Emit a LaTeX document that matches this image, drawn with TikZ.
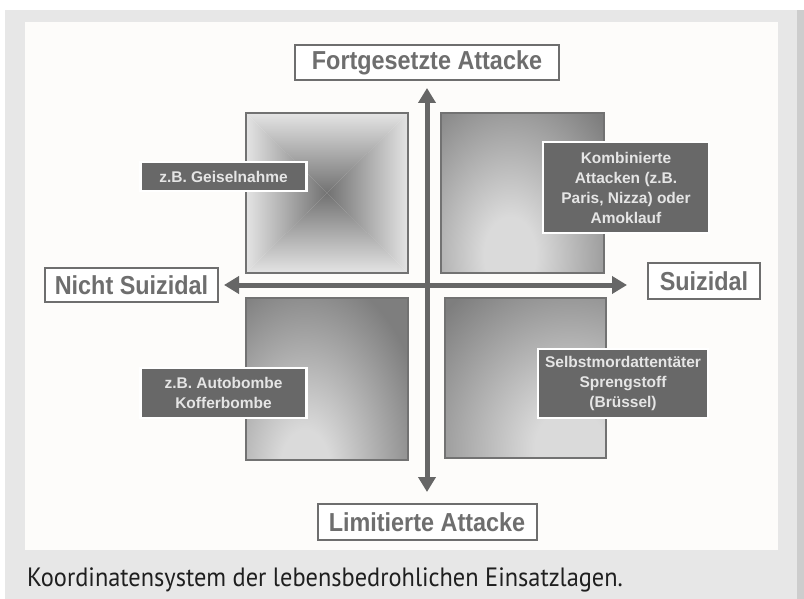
\documentclass[tikz,border=0pt]{standalone}
\usepackage{fontspec}
\setmainfont{Liberation Sans}
\newfontfamily\capfont[FakeStretch=0.92]{PT Sans}
\newfontfamily\axfont[FakeStretch=0.9]{Liberation Sans}
\usetikzlibrary{arrows.meta}

\definecolor{framegray}{HTML}{E7E7E7}
\definecolor{edgegray}{HTML}{CDCDCD}
\definecolor{panelwhite}{HTML}{FDFCFA}
\definecolor{axisgray}{HTML}{666666}
\definecolor{axtext}{HTML}{6E6E6E}
\definecolor{labelfill}{HTML}{686868}
\definecolor{qlight}{HTML}{E4E4E4}
\definecolor{qdark}{HTML}{727272}
\definecolor{qglow}{HTML}{DADADA}
\definecolor{qshade}{HTML}{7E7E7E}

\pgfdeclareradialshading{quadglow}{\pgfpoint{0bp}{0bp}}{color(0bp)=(qglow); color(5bp)=(qglow);
  color(25bp)=(qshade); color(50bp)=(qshade)}

\tikzset{
  axbox/.style={draw=axtext, line width=2pt, fill=white, text=axtext,
    font=\axfont\fontsize{26}{28}\selectfont\bfseries, inner sep=0pt},
  labelbox/.style={draw=white, line width=2.5pt, fill=labelfill, text=white!90!black,
    font=\fontsize{15.5}{20}\selectfont\bfseries, align=center, inner sep=0pt,
    minimum width=166pt},
  quadframe/.style={draw=qdark, line width=1.5pt},
  axisline/.style={draw=axisgray, line width=5pt,
    {Triangle[length=15pt,width=17pt]}-{Triangle[length=15pt,width=17pt]}},
}

\begin{document}
\begin{tikzpicture}[x=1pt,y=-1pt]
  \useasboundingbox (0,0) rectangle (804,599);
  % frame and panel
  \fill[framegray] (5,10) rectangle (797,599);
  \fill[edgegray] (797,10) rectangle (804,599);
  \fill[panelwhite] (25,22) rectangle (778,550);

  % quadrant top left (pyramid)
  \coordinate (A) at (246,113);
  \coordinate (B) at (408,113);
  \coordinate (C) at (408,273);
  \coordinate (D) at (246,273);
  \coordinate (M) at (327,193);
  \shade[top color=qlight, bottom color=qdark] (A) -- (B) -- (M) -- cycle;
  \shade[top color=qdark, bottom color=qlight] (D) -- (C) -- (M) -- cycle;
  \shade[left color=qlight, right color=qdark] (A) -- (D) -- (M) -- cycle;
  \shade[left color=qdark, right color=qlight] (B) -- (C) -- (M) -- cycle;
  \draw[quadframe] (A) rectangle (C);

  % quadrant top right
  \begin{scope}
    \clip (441,113) rectangle (604,273);
    \fill[qshade] (441,113) rectangle (604,273);
    \shade[shading=quadglow] (510,255) ellipse (130 and 190);
  \end{scope}
  \draw[quadframe] (441,113) rectangle (604,273);

  % quadrant bottom left
  \begin{scope}
    \clip (246,298) rectangle (408,460);
    \fill[qshade] (246,298) rectangle (408,460);
    \shade[shading=quadglow] (305,470) ellipse (125 and 200);
  \end{scope}
  \draw[quadframe] (246,298) rectangle (408,460);

  % quadrant bottom right
  \begin{scope}
    \clip (445,298) rectangle (606,458);
    \fill[qshade] (445,298) rectangle (606,458);
    \shade[shading=quadglow] (570,448) ellipse (175 and 195);
  \end{scope}
  \draw[quadframe] (445,298) rectangle (606,458);

  % axis labels
  \node[axbox, minimum width=264pt, minimum height=35pt] (fort) at (427,62.5) {Fortgesetzte Attacke};
  \node[axbox, minimum width=219pt, minimum height=36pt] (limit) at (427,522) {Limitierte Attacke};
  \node[axbox, minimum width=173pt, minimum height=34pt] (nicht) at (131.5,285) {Nicht Suizidal};
  \node[axbox, minimum width=112pt, minimum height=36pt] (suiz) at (704,281) {Suizidal};

  % axes
  \draw[axisline, shorten <=7pt, shorten >=11pt] (fort.south) -- (limit.north);
  \draw[axisline, shorten <=5pt, shorten >=20pt] (nicht.east) -- (nicht.east -| suiz.west);

  % examples
  \node[labelbox, minimum height=29pt] (geisel) at (223.5,176.5) {z.B. Geiselnahme};
  \node[labelbox, minimum height=91pt] (kombi) at (626,187.5)
    {Kombinierte\\Attacken (z.B.\\Paris, Nizza) oder\\Amoklauf};
  \node[labelbox, minimum height=50pt] (bombe) at (223.5,393) {z.B. Autobombe\\Kofferbombe};
  \node[labelbox, minimum width=170pt, minimum height=69pt] (selbst) at (623,383.5)
    {Selbstmordattentäter\\Sprengstoff\\(Brüssel)};

  % caption
  \node[anchor=base west, inner sep=0pt, text=black!88, font=\capfont\fontsize{26.5}{30}\selectfont]
    (caption) at (27,586) {Koordinatensystem der lebensbedrohlichen Einsatzlagen.};
\end{tikzpicture}
\end{document}
